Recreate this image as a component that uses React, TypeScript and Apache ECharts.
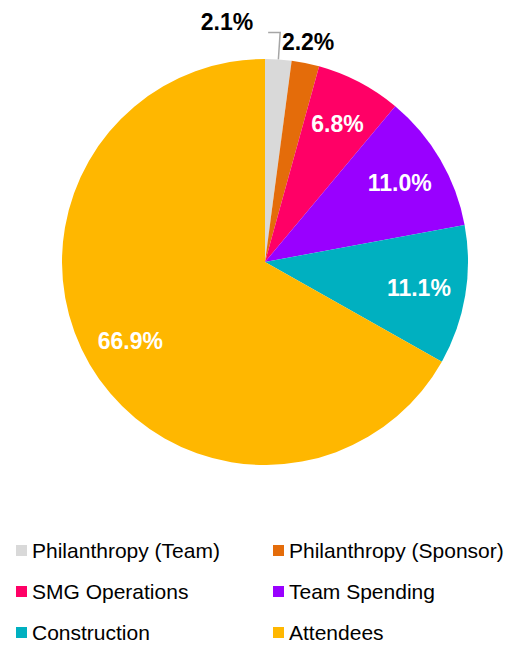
import React, { useEffect, useRef } from "react";
import * as echarts from "echarts";

const categories = [
  "Philanthropy (Team)",
  "Philanthropy (Sponsor)",
  "SMG Operations",
  "Team Spending",
  "Construction",
  "Attendees",
];
const shares = [2.1, 2.2, 6.8, 11.0, 11.1, 66.9];
const colors = ["#D9D9D9", "#E46C0A", "#FF0066", "#9900FF", "#00B0C0", "#FFB700"];
const outsideLabelIdx = [0, 1];
const legendLeftCol = [categories[0], categories[2], categories[4]];
const legendRightCol = [categories[1], categories[3], categories[5]];

const FONT = "'Liberation Sans', Arial, sans-serif";

export default function App() {
  const ref = useRef<HTMLDivElement>(null);
  useEffect(() => {
    if (!ref.current) return;
    const chart = echarts.init(ref.current, null, { renderer: "svg" });
    const fmt = (p: any) => Number(p.value).toFixed(1) + "%";
    const mainData = categories.map((name, i) => ({
      name,
      value: shares[i],
      itemStyle: { color: colors[i] },
      label: { show: outsideLabelIdx.includes(i) },
      labelLine: {
        show: i === 0,
        length: i === 0 ? 27 : 8,
        length2: i === 0 ? 12 : 0,
      },
    }));
    const overlayData = categories.map((name, i) => ({
      name,
      value: shares[i],
      label: { show: !outsideLabelIdx.includes(i) },
    }));
    const legendCommon = {
      orient: "vertical" as const,
      top: 540,
      height: 120,
      padding: 0,
      itemWidth: 11,
      itemHeight: 11,
      itemGap: 20,
      icon: "rect",
      textStyle: { fontFamily: FONT, fontSize: 21, color: "#000" },
    };
    chart.setOption({
      animation: false,
      color: colors,
      legend: [
        { ...legendCommon, left: 16, data: legendLeftCol },
        { ...legendCommon, left: 273, data: legendRightCol },
      ],
      series: [
        {
          type: "pie",
          center: [265, 262],
          radius: [0, 203],
          startAngle: 90,
          clockwise: true,
          silent: true,
          avoidLabelOverlap: false,
          label: {
            position: "outside",
            formatter: fmt,
            fontFamily: FONT,
            fontSize: 23,
            fontWeight: "bold",
            color: "#000",
          },
          labelLine: {
            lineStyle: { color: "#A6A6A6", width: 1.5 },
          },
          labelLayout: (params: any) => {
            if (params.dataIndex === 0) {
              const pts = params.labelLinePoints;
              if (!pts) return {};
              const mirrored = [
                pts[0],
                pts[1],
                [pts[1][0] - (pts[2][0] - pts[1][0]), pts[2][1]],
              ];
              return {
                dx: -(params.labelRect.width + 2 * (pts[2][0] - pts[1][0]) + 20),
                dy: -10,
                labelLinePoints: mirrored,
              };
            }
            if (params.dataIndex === 1) {
              return { dx: -params.labelRect.width / 2 - 4, dy: -13 };
            }
            return {};
          },
          data: mainData,
        },
        {
          type: "pie",
          center: [265, 262],
          radius: [0, 306],
          startAngle: 90,
          clockwise: true,
          silent: true,
          itemStyle: { color: "rgba(0,0,0,0)" },
          label: {
            position: "inside",
            formatter: fmt,
            fontFamily: FONT,
            fontSize: 23,
            fontWeight: "bold",
            color: "#fff",
          },
          labelLine: { show: false },
          data: overlayData,
        },
      ],
    });
    return () => chart.dispose();
  }, []);
  return (
    <div
      ref={ref}
      style={{ position: "absolute", left: 0, top: 0, width: 525, height: 646 }}
    />
  );
}
